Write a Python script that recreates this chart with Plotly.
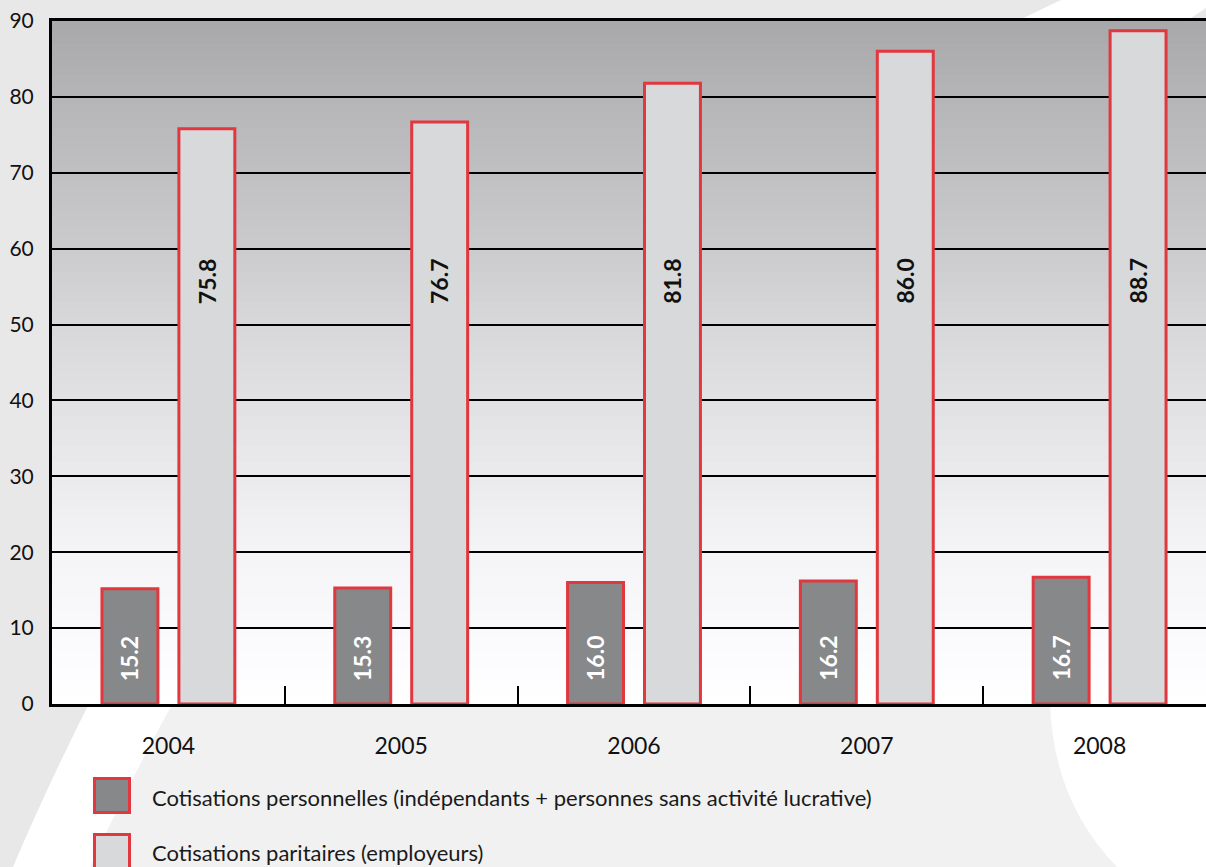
import plotly.graph_objects as go

# ---- data -----------------------------------------------------------------
years = ["2004", "2005", "2006", "2007", "2008"]
personnelles = [15.2, 15.3, 16.0, 16.2, 16.7]
paritaires = [75.8, 76.7, 81.8, 86.0, 88.7]
y_ticks = [0, 10, 20, 30, 40, 50, 60, 70, 80, 90]
legend_labels = [
    "Cotisations personnelles (indépendants + personnes sans activité lucrative)",
    "Cotisations paritaires (employeurs)",
]

# ---- styling --------------------------------------------------------------
W, H = 1206, 867
ML, MR, MT, MB = 52, 0, 21, 163
RED = "#e1373f"
DARK = "#87888a"
LIGHT = "#d8d9db"
FONT = "Lato"
PLOT_W = W - ML - MR
PLOT_H = H - MT - MB


def px(x):
    return (x - ML) / PLOT_W


def py(y):
    return (H - MB - y) / PLOT_H


def path(points, closing=True):
    s = ""
    for i, p in enumerate(points):
        if p[0] == "Q":
            s += f" Q {px(p[1])},{py(p[2])} {px(p[3])},{py(p[4])}"
        else:
            s += (" M " if i == 0 else " L ") + f"{px(p[0])},{py(p[1])}"
    return s + (" Z" if closing else "")


shapes = []
# page background swooshes
shapes.append(dict(type="rect", xref="paper", yref="paper", x0=px(0), x1=px(W),
                   y0=py(H), y1=py(H - MB), fillcolor="#f1f1f1", line_width=0, layer="below"))
shapes.append(dict(type="path", xref="paper", yref="paper",
                   path=path([(0, 690), (96, 690), ("Q", 50, 780, 13, 867), (0, 867)]),
                   fillcolor="#e8e8e8", line_width=0, layer="below"))
shapes.append(dict(type="path", xref="paper", yref="paper",
                   path=path([(96, 690), (180, 690), ("Q", 130, 780, 90, 867), (13, 867),
                              ("Q", 50, 780, 96, 690)]),
                   fillcolor="#ffffff", line_width=0, layer="below"))
shapes.append(dict(type="path", xref="paper", yref="paper",
                   path=path([(1050, 700), ("Q", 1052, 800, 1117, 867), (1206, 867), (1206, 700)]),
                   fillcolor="#ffffff", line_width=0, layer="below"))
shapes.append(dict(type="path", xref="paper", yref="paper",
                   path=path([(1015, 22), (1061, 0), (1206, 0), (1206, 8), (1185, 22)]),
                   fillcolor="#ffffff", line_width=0, layer="below"))

# vertical gradient of the plotting area
stops = [(0, 255), (10, 250), (20, 244), (30, 235), (40, 225), (50, 216),
         (60, 203), (70, 192), (80, 181), (90, 168)]


def grey_at(v):
    for (a, ca), (b, cb) in zip(stops[:-1], stops[1:]):
        if a <= v <= b:
            return ca + (cb - ca) * (v - a) / (b - a)
    return stops[-1][1]


N = 90
for i in range(N):
    g = grey_at((i + 0.5) * 90 / N)
    c = f"rgb({round(g)},{round(g)},{min(255, round(g) + 2)})"
    shapes.append(dict(type="rect", xref="paper", yref="paper", x0=0, x1=1,
                       y0=i / N, y1=min(1, (i + 1) / N + 0.003),
                       fillcolor=c, line_width=0, layer="below"))

# legend swatches
for k, col in enumerate([DARK, LIGHT]):
    top = 778.5 + k * 56
    shapes.append(dict(type="rect", xref="paper", yref="paper",
                       x0=px(94.5), x1=px(129.5), y0=py(top + 34), y1=py(top),
                       fillcolor=col, line=dict(color=RED, width=3), layer="above"))

annotations = []
for k, lab in enumerate(legend_labels):
    annotations.append(dict(xref="paper", yref="paper", x=px(150), y=py(797 + k * 55),
                            xanchor="left", yanchor="middle", showarrow=False, text=lab,
                            font=dict(family=FONT, size=22, color="#1a1a1a")))

# value labels inside the bars (x given as category index)
for idx, (a, b) in enumerate(zip(personnelles, paritaires)):
    annotations.append(dict(x=idx, y=6.0, xref="x", yref="y", xshift=-38.5, showarrow=False,
                            text=f"<b>{a:.1f}</b>", textangle=-90,
                            font=dict(family=FONT, size=23, color="#ffffff")))
    annotations.append(dict(x=idx, y=55.7, xref="x", yref="y", xshift=38.5, showarrow=False,
                            text=f"<b>{b:.1f}</b>", textangle=-90,
                            font=dict(family=FONT, size=23, color="#111111")))

fig = go.Figure()
fig.add_trace(go.Bar(x=years, y=personnelles, name=legend_labels[0],
                     marker=dict(color=DARK, line=dict(color=RED, width=3)),
                     showlegend=False, hoverinfo="x+y"))
fig.add_trace(go.Bar(x=years, y=paritaires, name=legend_labels[1],
                     marker=dict(color=LIGHT, line=dict(color=RED, width=3)),
                     showlegend=False, hoverinfo="x+y"))

fig.update_layout(
    width=W, height=H,
    margin=dict(l=ML, r=MR, t=MT, b=MB, pad=0),
    paper_bgcolor="#e8e8e8",
    plot_bgcolor="rgba(0,0,0,0)",
    barmode="group", bargap=0.339, bargroupgap=0.273,
    font=dict(family=FONT, size=21, color="#111111"),
    shapes=shapes, annotations=annotations,
    xaxis=dict(type="category", range=[-0.5, 4.457], tickson="boundaries",
               ticks="inside", ticklen=18, tickwidth=1.5, tickcolor="#000000",
               showline=True, linecolor="#000000", linewidth=3, mirror=True,
               showgrid=False, ticklabelstandoff=19,
               tickfont=dict(family=FONT, size=23, color="#111111")),
    yaxis=dict(range=[0, 90], tickvals=y_ticks, showgrid=True, gridcolor="#000000",
               gridwidth=2, showline=True, linecolor="#000000", linewidth=3,
               zeroline=False, ticks="", ticklabelstandoff=11,
               tickfont=dict(family=FONT, size=21, color="#111111")),
)

fig.write_html("out.html")
